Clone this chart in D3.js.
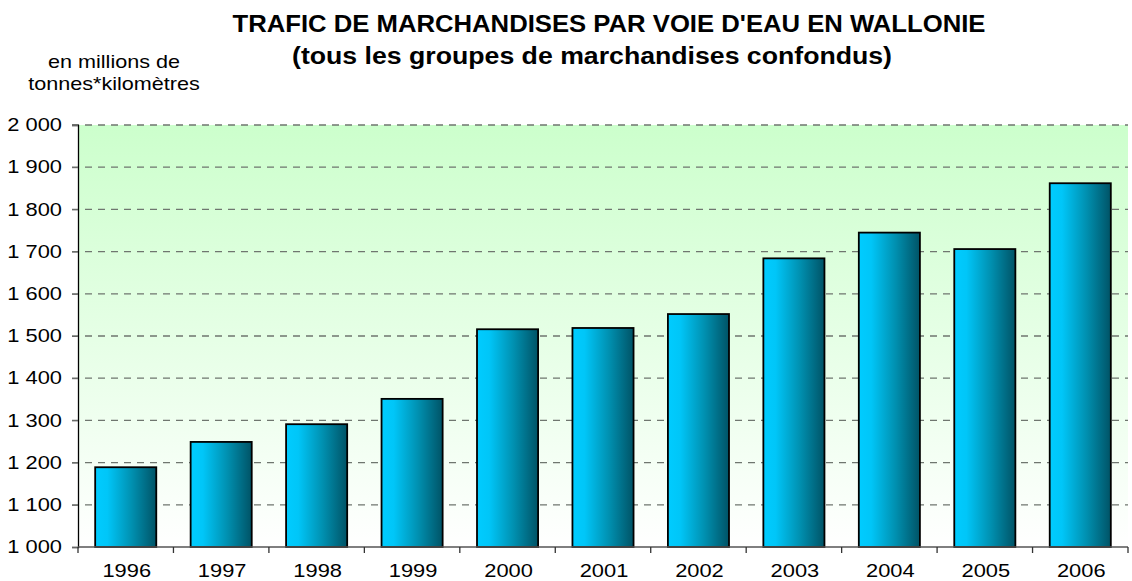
<!DOCTYPE html>
<html>
<head>
<meta charset="utf-8">
<script src="https://cdn.jsdelivr.net/npm/d3@7"></script>
<style>
  body { margin: 0; background: #fff; }
  text { font-family: "Liberation Sans", Arial, sans-serif; }
</style>
</head>
<body>
<div id="chart"></div>
<script>
// data
var years = ["1996", "1997", "1998", "1999", "2000", "2001", "2002", "2003", "2004", "2005", "2006"];
var trafic = [1189, 1249, 1291, 1351, 1516, 1519, 1552, 1684, 1745, 1706, 1862];
var yTicks = [1000, 1100, 1200, 1300, 1400, 1500, 1600, 1700, 1800, 1900, 2000];
var titleLines = ["TRAFIC DE MARCHANDISES PAR VOIE D'EAU EN WALLONIE", "(tous les groupes de marchandises confondus)"];
var unitLines = ["en millions de", "tonnes*kilomètres"];

var W = 1132, H = 581;
var margin = {top: 125, right: 4, bottom: 34, left: 78},
    width = W - margin.left - margin.right,
    height = H - margin.top - margin.bottom;
var stretch = 1.25; // the original text looks wider than plain Arial

var svg = d3.select("#chart").append("svg")
    .attr("width", W)
    .attr("height", H);

var defs = svg.append("defs");
var bg = defs.append("linearGradient").attr("id", "bg")
    .attr("x1", 0).attr("y1", 0).attr("x2", 0).attr("y2", 1);
bg.append("stop").attr("offset", "0%").attr("stop-color", "#ccffcc");
bg.append("stop").attr("offset", "100%").attr("stop-color", "#ffffff");

var barGrad = defs.append("linearGradient").attr("id", "bar")
    .attr("x1", 0).attr("y1", 0).attr("x2", 1).attr("y2", 0);
barGrad.append("stop").attr("offset", "0%").attr("stop-color", "#00ccff");
barGrad.append("stop").attr("offset", "20%").attr("stop-color", "#00c6f8");
barGrad.append("stop").attr("offset", "60%").attr("stop-color", "#0090b0");
barGrad.append("stop").attr("offset", "100%").attr("stop-color", "#005366");

// title (two lines, widths as in the original)
var titlePos = [{x: 609, y: 32, w: 753}, {x: 592, y: 64, w: 600}];
svg.selectAll(".title")
  .data(titleLines)
  .enter().append("text")
    .attr("class", "title")
    .attr("x", (d, i) => titlePos[i].x - titlePos[i].w / 2)
    .attr("y", (d, i) => titlePos[i].y)
    .attr("textLength", (d, i) => titlePos[i].w)
    .attr("lengthAdjust", "spacingAndGlyphs")
    .style("font-size", "23px")
    .style("font-weight", "bold")
    .text(d => d);

// unit label
svg.selectAll(".unit")
  .data(unitLines)
  .enter().append("text")
    .attr("class", "unit")
    .attr("transform", (d, i) => "translate(114," + (68 + i * 22) + ") scale(" + 1.2 + ",1)")
    .attr("text-anchor", "middle")
    .style("font-size", "18px")
    .text(d => d);

var g = svg.append("g")
    .attr("transform", "translate(" + margin.left + "," + margin.top + ")");

var x = d3.scaleBand()
    .domain(years)
    .range([0, width])
    .paddingInner(0.36)
    .paddingOuter(0.18);

var y = d3.scaleLinear()
    .domain([1000, 2000])
    .range([height, 0]);

g.append("rect")
    .attr("width", width)
    .attr("height", height)
    .attr("fill", "url(#bg)");

// dashed grid
g.append("g")
  .selectAll("line")
  .data(yTicks.slice(1))
  .enter().append("line")
    .attr("x1", -6).attr("x2", width)
    .attr("y1", d => y(d)).attr("y2", d => y(d))
    .attr("stroke", "#6f766f")
    .attr("stroke-width", 1.3)
    .attr("stroke-dasharray", "7,6");

// bars
g.append("g")
  .selectAll("rect")
  .data(trafic)
  .enter().append("rect")
    .attr("x", (d, i) => x(years[i]))
    .attr("y", d => y(d))
    .attr("width", x.bandwidth())
    .attr("height", d => height - y(d))
    .attr("fill", "url(#bar)")
    .attr("stroke", "#000")
    .attr("stroke-width", 1.8);

// y axis
var yAxis = g.append("g")
    .call(d3.axisLeft(y).tickValues(yTicks).tickSize(6).tickPadding(5)
      .tickFormat(d => d3.format(",")(d).replace(",", " ")));
yAxis.select(".domain").attr("stroke", "#000").attr("stroke-width", 1.3);
yAxis.selectAll(".tick line").attr("stroke", "#666");
yAxis.selectAll("text")
    .attr("x", -16 / stretch)
    .attr("transform", "scale(" + stretch + ",1)")
    .style("font-size", "17.5px")
    .attr("fill", "#000");

// x axis with ticks between categories
var xAxis = g.append("g")
    .attr("transform", "translate(0," + height + ")");
xAxis.append("line")
    .attr("x1", 0).attr("x2", width)
    .attr("stroke", "#555").attr("stroke-width", 1.3);
xAxis.selectAll(".sep")
  .data(d3.range(years.length + 1))
  .enter().append("line")
    .attr("class", "sep")
    .attr("x1", i => i * width / years.length)
    .attr("x2", i => i * width / years.length)
    .attr("y1", 0).attr("y2", 6)
    .attr("stroke", "#333").attr("stroke-width", 1.3);
xAxis.selectAll(".lab")
  .data(years)
  .enter().append("text")
    .attr("class", "lab")
    .attr("transform", d => "translate(" + (x(d) + x.bandwidth() / 2 + 1) + ",30) scale(" + stretch + ",1)")
    .attr("text-anchor", "middle")
    .style("font-size", "17.5px")
    .text(d => d);
</script>
</body>
</html>
